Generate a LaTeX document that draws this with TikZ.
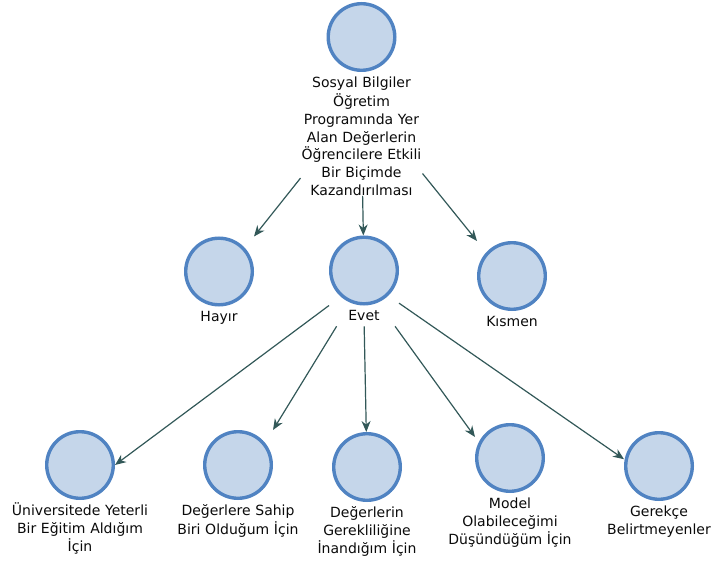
\documentclass[tikz,border=0pt]{standalone}
\usepackage{fontspec}
\setmainfont{DejaVu Sans}
\usepackage{tikz}
\usetikzlibrary{arrows.meta,positioning}

\definecolor{circfill}{RGB}{197,214,234}
\definecolor{circline}{RGB}{80,131,194}
\definecolor{arrowcol}{RGB}{50,88,88}
\definecolor{textcol}{RGB}{10,10,10}
\newcommand{\lblfont}{\fontsize{14pt}{17.8pt}\selectfont}

\begin{document}
\begin{tikzpicture}[->,>={Stealth[length=11pt,width=9pt,inset=3.5pt]},x=1pt,y=1pt,
                    line width=1.2pt,node distance=3pt]
  \tikzstyle{ent}=[rectangle,minimum size=70pt,inner sep=0pt,outer sep=0pt,
    path picture={\draw[-,line width=3.4pt,draw=circline,fill=circfill]
      (path picture bounding box.center) circle (33.3pt);}]
  \tikzstyle{lbl}=[inner sep=0pt,outer sep=0pt,text width=150pt,align=center,
    font=\lblfont,text=textcol,execute at begin node=\strut]
  \tikzstyle{every edge}=[draw=arrowcol]

  \useasboundingbox (0,0) rectangle (711,563);

  \node[ent] (top)     at (361.5,526) {};
  \node[ent] (hayir)   at (219,291.5) {};
  \node[ent] (evet)    at (364,292.5) {};
  \node[ent] (kismen)  at (512,287)   {};
  \node[ent] (univ)    at (80,98)     {};
  \node[ent] (dsahip)  at (238,98)    {};
  \node[ent] (dgerek)  at (367,96)    {};
  \node[ent] (model)   at (510,105)   {};
  \node[ent] (gerekce) at (659,97)    {};

  \node[lbl,text width=122pt,below=of top] (top-l)
    {Sosyal Bilgiler\\Öğretim\\Programında Yer\\Alan Değerlerin\\Öğrencilere Etkili\\Bir Biçimde\\Kazandırılması};
  \node[lbl,below=of hayir]             (hayir-l)   {Hayır};
  \node[lbl,text width=70pt,below=of evet] (evet-l) {Evet};
  \node[lbl,below=of kismen]            (kismen-l)  {Kısmen};
  \node[lbl,below=of univ]              (univ-l)    {Üniversitede Yeterli\\Bir Eğitim Aldığım\\İçin};
  \node[lbl,below=of dsahip]            (dsahip-l)  {Değerlere Sahip\\Biri Olduğum İçin};
  \node[lbl,below=of dgerek]            (dgerek-l)  {Değerlerin\\Gerekliliğine\\İnandığım İçin};
  \node[lbl,below=of model]             (model-l)   {Model\\Olabileceğimi\\Düşündüğüm İçin};
  \node[lbl,below=of gerekce]           (gerekce-l) {Gerekçe\\Belirtmeyenler};

  \path (top-l.215)        edge (hayir.north east)
        (top-l)            edge (evet)
        (top-l.328)        edge (kismen.north west)
        (evet.south west)  edge (univ.east)
        (evet-l.198)       edge (dsahip.north east)
        (evet-l)           edge (dgerek)
        (evet-l.-16)       edge (model.149)
        (evet.-43)         edge (gerekce.169);
\end{tikzpicture}
\end{document}
